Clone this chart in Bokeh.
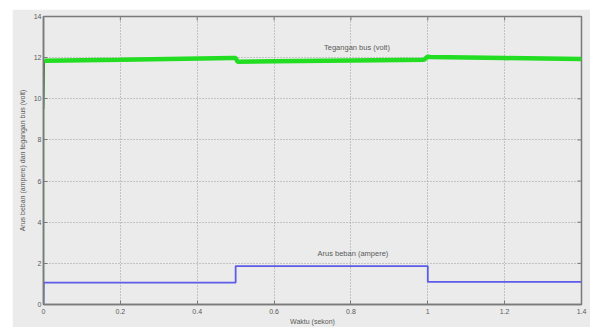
from bokeh.plotting import figure
from bokeh.models import Label, FixedTicker, Spacer
from bokeh.layouts import row, column
from bokeh.embed import file_html
from bokeh.resources import INLINE

# Data
t_start = [0.0, 0.0005, 0.002]
v_start = [0.0, 9.5, 11.9]

t_volt = [0.002, 0.004, 0.2, 0.49, 0.5, 0.505, 0.6, 0.8, 0.99, 1.0, 1.005, 1.2, 1.4]
v_volt = [11.9, 11.85, 11.9, 11.98, 11.98, 11.8, 11.82, 11.86, 11.9, 12.05, 12.03, 11.98, 11.93]

t_amp = [0.0, 0.0005, 0.5, 0.5, 1.0, 1.0, 1.4]
i_amp = [0.0, 1.06, 1.06, 1.87, 1.87, 1.1, 1.1]

x_ticks = [0, 0.2, 0.4, 0.6, 0.8, 1.0, 1.2, 1.4]
x_tick_labels = {0: "0", 0.2: "0.2", 0.4: "0.4", 0.6: "0.6", 0.8: "0.8", 1.0: "1", 1.2: "1.2", 1.4: "1.4"}
y_ticks = [0, 2, 4, 6, 8, 10, 12, 14]
x_max = 1.4
y_max = 14

FONT = "Liberation Sans"
BG = "#ebebeb"
AX = "#7a7a7a"
TXT = "#5a5a5a"

p = figure(width=578, height=318, x_range=(0, x_max), y_range=(0, y_max),
           output_backend="svg", toolbar_location=None,
           background_fill_color=BG, border_fill_color=BG,
           min_border_left=31, min_border_right=9, min_border_top=7, min_border_bottom=21,
           outline_line_color=AX, outline_line_width=1.5)

p.xgrid.ticker = FixedTicker(ticks=x_ticks)
p.ygrid.ticker = FixedTicker(ticks=y_ticks)
for g in (p.xgrid[0], p.ygrid[0]):
    g.grid_line_color = "#9a9a9a"
    g.grid_line_dash = "1 2"
    g.grid_line_width = 1

# inward ticks on top and right edges
p.scatter(x_ticks, [y_max] * len(x_ticks), marker="dash", angle=1.5708, size=8,
          line_color=AX, line_width=1)
p.scatter([x_max] * len(y_ticks), y_ticks, marker="dash", size=8,
          line_color=AX, line_width=1)

p.line(t_start, v_start, line_color="#66e066", line_width=1.2)
p.line(t_start[1:], v_start[1:], line_color="#2f6f2f", line_width=1.2)
p.line(t_volt, v_volt, line_color="#22dd22", line_width=4.5)
p.line(t_amp, i_amp, line_color="#5c5ce8", line_width=1.8)

for ax in (p.xaxis[0], p.yaxis[0]):
    ax.major_tick_in = 4
    ax.major_tick_out = 0
    ax.minor_tick_in = 0
    ax.minor_tick_out = 0
    ax.axis_line_color = AX
    ax.axis_line_width = 1.5
    ax.major_tick_line_color = AX
    ax.major_label_text_font = FONT
    ax.major_label_text_font_size = "7px"
    ax.major_label_text_color = TXT
    ax.axis_label_text_font = FONT
    ax.axis_label_text_font_size = "7px"
    ax.axis_label_text_color = TXT
    ax.axis_label_text_font_style = "normal"

p.xaxis[0].ticker = FixedTicker(ticks=x_ticks)
p.xaxis[0].major_label_overrides = x_tick_labels
p.xaxis[0].major_label_standoff = 4
p.xaxis[0].axis_label = "Waktu (sekon)"
p.xaxis[0].axis_label_standoff = 1

p.yaxis[0].ticker = FixedTicker(ticks=y_ticks)
p.yaxis[0].major_label_standoff = 2
p.yaxis[0].axis_label = "Arus beban (ampere) dan tegangan bus (volt)"
p.yaxis[0].axis_label_standoff = 5

p.add_layout(Label(x=0.73, y=12.5, text="Tegangan bus (volt)", text_font=FONT,
                   text_font_size="7.5px", text_color=TXT, text_baseline="middle"))
p.add_layout(Label(x=0.713, y=2.5, text="Arus beban (ampere)", text_font=FONT,
                   text_font_size="7.5px", text_color=TXT, text_baseline="middle"))

layout = column(Spacer(width=590, height=9),
                row(Spacer(width=12, height=318), p, spacing=0),
                spacing=0)

open("out.html", "w").write(file_html(layout, INLINE))
